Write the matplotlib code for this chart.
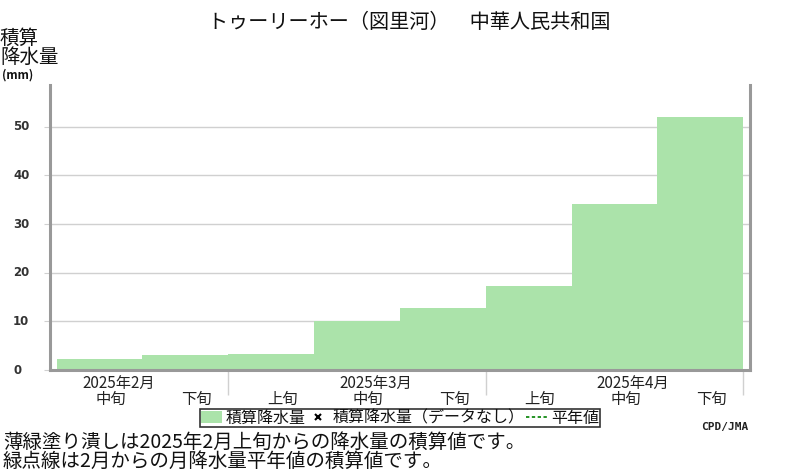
"""トゥーリーホー（図里河） 積算降水量グラフ."""
import matplotlib

matplotlib.use("Agg")
import matplotlib.pyplot as plt
from matplotlib.lines import Line2D
from matplotlib.patches import Patch
from matplotlib.transforms import blended_transform_factory

plt.rcParams["font.family"] = ["Noto Sans CJK JP", "DejaVu Sans"]

# データ（2月中旬〜4月下旬の旬別積算降水量, mm）
dekad_labels = ["中旬", "下旬", "上旬", "中旬", "下旬", "上旬", "中旬", "下旬"]
cum_precip = [2.3, 3.1, 3.3, 10.0, 12.8, 17.3, 34.2, 52.1]
month_labels = ["2025年2月", "2025年3月", "2025年4月"]
month_label_pos = [0, 3, 6]      # 各月の中旬の位置
month_edges = [2, 5, 8]
y_ticks = [0, 10, 20, 30, 40, 50]

title = "トゥーリーホー（図里河）　中華人民共和国"
note_lines = [
    "薄緑塗り潰しは2025年2月上旬からの降水量の積算値です。",
    "緑点線は2月からの月降水量平年値の積算値です。",
]

BAR_COLOR = "#abe3aa"
GRID_COLOR = "#d0d0d0"
SPINE_COLOR = "#999999"

W, H = 800, 470
fig = plt.figure(figsize=(W / 100, H / 100), dpi=100)
ax = fig.add_axes([50 / W, 1 - 370 / H, 700 / W, 285 / H])

x = list(range(len(cum_precip)))
ax.bar(x, cum_precip, width=1.0, align="edge", color=BAR_COLOR, zorder=2)

ax.set_xlim(-0.078, len(cum_precip) + 0.08)
ax.set_ylim(0, 58.6)

# 横グリッド
ax.set_yticks(y_ticks)
ax.yaxis.grid(True, color=GRID_COLOR, linewidth=1.0, zorder=0)
ax.tick_params(axis="y", length=4.5, width=0.8, color=GRID_COLOR,
               labelleft=False)

# x軸：月の区切りを長い目盛で
ax.set_xticks([])
ax.set_xticks(month_edges, minor=True)
ax.tick_params(axis="x", which="minor", length=18, width=1.0,
               color=GRID_COLOR, labelbottom=False)

for side in ["left", "right", "bottom"]:
    ax.spines[side].set_color(SPINE_COLOR)
    ax.spines[side].set_linewidth(2.2)
    ax.spines[side].set_zorder(3)
ax.spines["top"].set_visible(False)

# y目盛ラベル（左寄せ）
ytrans = blended_transform_factory(fig.transFigure, ax.transData)
for v in y_ticks:
    ax.text(13 / W, v, str(v), transform=ytrans, ha="left", va="center",
            fontsize=8.5, fontweight="bold", color="#333333",
            family="DejaVu Sans")

# 旬と月のラベル
xtrans = blended_transform_factory(ax.transData, ax.transAxes)
for i, lab in enumerate(dekad_labels):
    ax.text(i + 0.5 + 0.13, -0.072, lab, transform=xtrans, ha="center",
            va="top", fontsize=11, color="#222222")
for lab, pos in zip(month_labels, month_label_pos):
    ax.text(pos + 0.72, -0.016, lab, transform=xtrans, ha="center",
            va="top", fontsize=11, color="#222222")

# タイトルと縦軸ラベル
fig.text(409 / W, 1 - 22 / H, title, ha="center", va="center",
         fontsize=14.5, color="#111111")
fig.text(0 / W, 1 - 28 / H, "積算\n降水量", ha="left", va="top",
         fontsize=14, linespacing=0.85, color="#111111")
fig.text(2 / W, 1 - 75 / H, "(mm)", ha="left", va="center",
         fontsize=8.5, fontweight="bold", color="#111111")

# 凡例
handles = [
    Patch(facecolor=BAR_COLOR, edgecolor="none"),
    Line2D([], [], color="black", marker="x", linestyle="none",
           markersize=4, markeredgewidth=1.5),
    Line2D([], [], color="green", linestyle=(0, (2, 1.5)), linewidth=1.2),
]
leg_labels = ["積算降水量", "積算降水量（データなし）", "平年値"]
leg = fig.legend(handles, leg_labels, loc="center", ncol=3,
                 bbox_to_anchor=(400 / W, 1 - 418 / H), fontsize=11.5,
                 frameon=True, fancybox=False, edgecolor="black",
                 handlelength=1.3, handleheight=0.8, handletextpad=0.25,
                 columnspacing=0.1, borderpad=0.05, borderaxespad=0)
leg.get_frame().set_linewidth(1.2)
for t in leg.get_texts():
    t.set_color("#111111")

# 注記（2行を1つのテキストに）
fig.text(3 / W, 1 - 432 / H, "\n".join(note_lines), ha="left", va="top",
         fontsize=14, linespacing=0.85, color="#111111")

fig.text(748 / W, 1 - 427 / H, "CPD/JMA", ha="right", va="center",
         fontsize=8, fontweight="bold", family="DejaVu Sans Mono",
         color="#222222")

fig.savefig("out.png", dpi=100)
